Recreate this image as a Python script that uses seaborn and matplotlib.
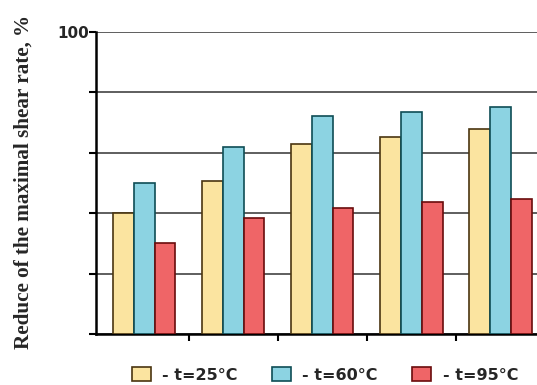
import matplotlib
matplotlib.use("Agg")
import matplotlib.pyplot as plt
from matplotlib.patches import Patch
import pandas as pd
import seaborn as sns

# ---------------------------------------------------------------------------
# Données
# ---------------------------------------------------------------------------
groupes = ["1", "2", "3", "4", "5"]
temperatures = ["- t=25°C", "- t=60°C", "- t=95°C"]
valeurs_25 = [40, 50.7, 63, 65.2, 68]
valeurs_60 = [50, 62, 72.3, 73.5, 75.2]
valeurs_95 = [30, 38.5, 41.7, 43.7, 44.7]
ticks_y = [0, 20, 40, 60, 80, 100]
labels_y = ["", "", "", "", "", "100"]

couleurs = ["#FBE4A0", "#8CD3E2", "#EF6567"]
bordures = ["#4a3510", "#0e4d55", "#6a0c0c"]

df = pd.DataFrame({
    "groupe": groupes * 3,
    "temp": [t for t in temperatures for _ in groupes],
    "val": valeurs_25 + valeurs_60 + valeurs_95,
})

sns.set_theme(style="white")
plt.rcParams.update({"font.family": ["DejaVu Sans"]})

fig = plt.figure(figsize=(5.37, 3.85), dpi=100)
# l'axe déborde à droite : l'image d'origine est rognée
ax = fig.add_axes([96 / 537, 1 - 334 / 385, 449 / 537, 302 / 385])

sns.barplot(data=df, x="groupe", y="val", hue="temp", palette=couleurs,
            width=0.7, gap=0, linewidth=1.2, saturation=1,
            legend=False, ax=ax, zorder=3)
for cont, bord in zip(ax.containers, bordures):
    for barre in cont:
        barre.set_edgecolor(bord)

ax.set_xlim(-0.54, 4.5)
ax.set_ylim(0, 100)
ax.set_yticks(ticks_y)
ax.set_yticklabels(labels_y, fontsize=11, fontweight="bold")
ax.set_xticks([0.5, 1.5, 2.5, 3.5])
ax.set_xticklabels([])
ax.set_xlabel("")
ax.tick_params(axis="both", direction="out", length=5, width=1.5,
               color="black", left=True, bottom=True, pad=0)
ax.yaxis.grid(True, color="#333333", linewidth=1.1, zorder=0)
ax.xaxis.grid(False)
for s in ["top", "right"]:
    ax.spines[s].set_visible(False)
for s in ["left", "bottom"]:
    ax.spines[s].set_color("black")
    ax.spines[s].set_linewidth(1.8)

ax.set_ylabel("Reduce of the maximal shear rate, %", fontsize=15.2,
              fontweight="bold", family=["Liberation Serif"])
ax.yaxis.set_label_coords(-0.14, 0.505)

poignees = [Patch(facecolor=c, edgecolor=b, linewidth=1.2)
            for c, b in zip(couleurs, bordures)]
fig.legend(poignees, temperatures, loc="center",
           bbox_to_anchor=(325 / 537, 1 - 375 / 385), ncol=3, frameon=False,
           prop={"weight": "bold", "size": 11.5},
           handlelength=1.2, handleheight=0.9, handletextpad=0.7,
           columnspacing=2.15)

fig.savefig("out.png", dpi=100)
